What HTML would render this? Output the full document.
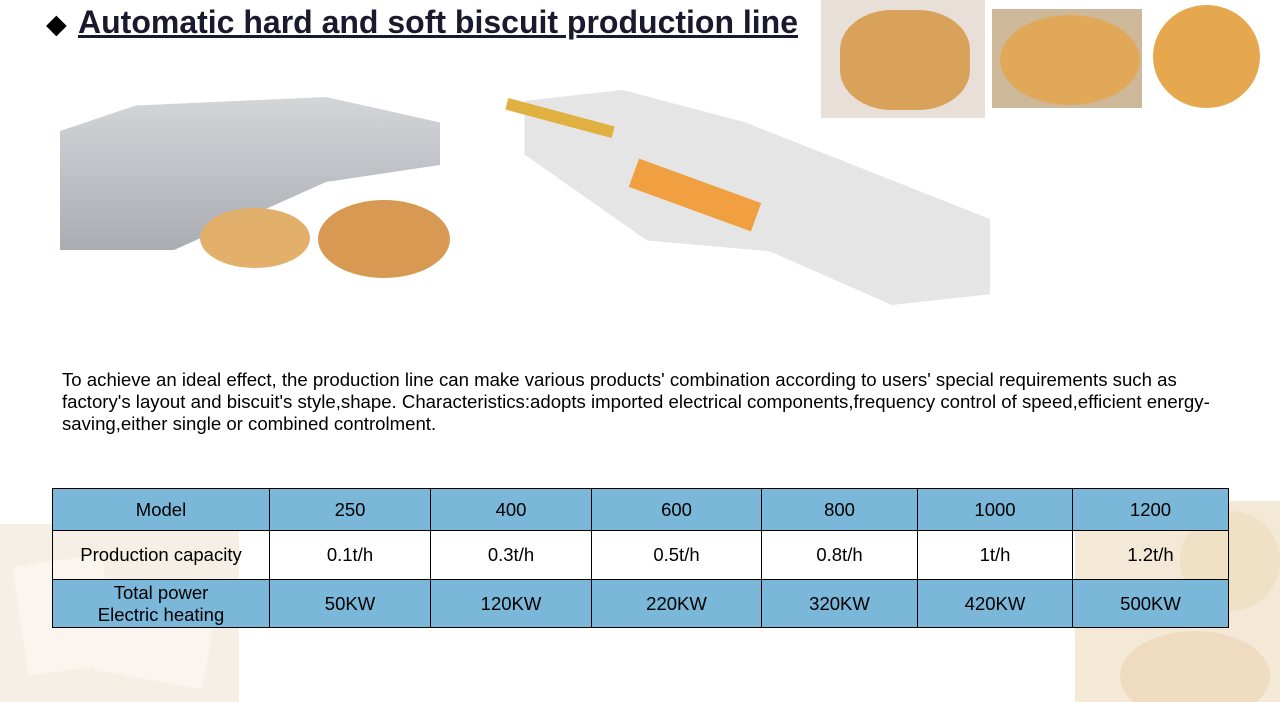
<!DOCTYPE html>
<html><head><meta charset="utf-8"><style>
body{margin:0;width:1280px;height:702px;position:relative;background:#fff;font-family:"Liberation Sans",sans-serif;overflow:hidden}
.a{position:absolute}
table{position:absolute;left:52px;top:488px;border-collapse:collapse;font-size:18.5px;color:#000}
td{border:1px solid #000;text-align:center;padding:0;line-height:22px}
tr.b td{background:#7ab7d8}
</style></head><body>
<div class="a" style="left:0;top:524px;width:239px;height:178px;background:#f5efe6"></div>
<div class="a" style="left:20px;top:560px;width:90px;height:110px;background:#faf6ef;transform:rotate(-8deg)"></div>
<div class="a" style="left:100px;top:600px;width:110px;height:80px;background:#faf6ef;transform:rotate(10deg)"></div>
<div class="a" style="left:1075px;top:501px;width:205px;height:201px;background:#f4e8d6;overflow:hidden">
<div class="a" style="left:45px;top:130px;width:150px;height:90px;border-radius:50%;background:#efdcc0"></div>
<div class="a" style="left:105px;top:10px;width:100px;height:100px;border-radius:50%;background:#f0e0c6"></div></div>

<div class="a" style="left:46px;top:9px;font-size:27px;color:#000">◆</div>
<div class="a" style="left:78px;top:4px;font-size:32px;font-weight:bold;color:#1a1a2e;text-decoration:underline">Automatic hard and soft biscuit production line</div>

<!-- machine photo -->
<div class="a" style="left:60px;top:80px;width:380px;height:170px;background:linear-gradient(#d8dadd,#a9adb2);clip-path:polygon(0 30%,20% 15%,70% 10%,100% 25%,100% 50%,70% 60%,30% 100%,0 100%)"></div>
<div class="a" style="left:200px;top:208px;width:110px;height:60px;border-radius:50%;background:#e2b06a"></div>
<div class="a" style="left:318px;top:200px;width:132px;height:78px;border-radius:50%;background:#d89a52"></div>

<!-- diagram -->
<div class="a" style="left:500px;top:90px;width:490px;height:215px;background:#dedede;opacity:.8;clip-path:polygon(5% 5%,25% 0%,50% 15%,100% 60%,100% 95%,80% 100%,55% 75%,30% 70%,5% 30%)"></div>
<div class="a" style="left:630px;top:180px;width:130px;height:30px;background:#f0a040;transform:rotate(20deg)"></div>
<div class="a" style="left:505px;top:112px;width:110px;height:12px;background:#e0b040;transform:rotate(15deg)"></div>

<!-- photos -->
<div class="a" style="left:821px;top:0;width:164px;height:118px;background:#e8e0d8"></div>
<div class="a" style="left:840px;top:10px;width:130px;height:100px;border-radius:40%;background:#d9a25a"></div>
<div class="a" style="left:992px;top:9px;width:150px;height:99px;background:#cdb89a"></div>
<div class="a" style="left:1000px;top:15px;width:140px;height:90px;border-radius:50%;background:#e2a85a"></div>
<div class="a" style="left:1153px;top:5px;width:107px;height:103px;border-radius:50%;background:#e5a84e"></div>

<div class="a" style="left:62px;top:369px;width:1158px;font-size:18.6px;line-height:22px;color:#000">To achieve an ideal effect, the production line can make various products' combination according to users' special requirements such as factory's layout and biscuit's style,shape. Characteristics:adopts imported electrical components,frequency control of speed,efficient energy-saving,either single or combined controlment.</div>

<table>
<tr class="b" style="height:42px"><td style="width:216px">Model</td><td style="width:160px">250</td><td style="width:160px">400</td><td style="width:169px">600</td><td style="width:155px">800</td><td style="width:154px">1000</td><td style="width:155px">1200</td></tr>
<tr style="height:49px"><td>Production capacity</td><td>0.1t/h</td><td>0.3t/h</td><td>0.5t/h</td><td>0.8t/h</td><td>1t/h</td><td>1.2t/h</td></tr>
<tr class="b" style="height:48px"><td>Total power<br>Electric heating</td><td>50KW</td><td>120KW</td><td>220KW</td><td>320KW</td><td>420KW</td><td>500KW</td></tr>
</table>
</body></html>
